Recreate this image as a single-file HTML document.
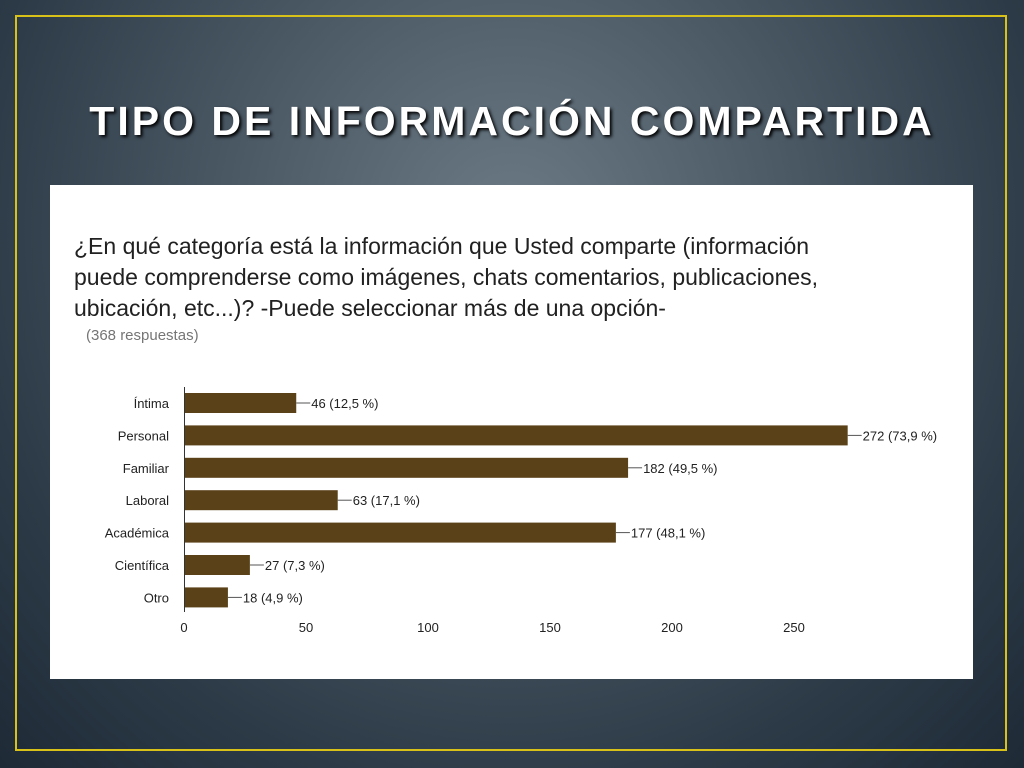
<!DOCTYPE html>
<html><head><meta charset="utf-8"><style>
body{margin:0;width:1024px;height:768px;overflow:hidden;font-family:"Liberation Sans",sans-serif;}
#bg{position:absolute;left:0;top:0;width:1024px;height:768px;background:radial-gradient(ellipse at 50% 30%,#6b7a85 0%,#4a5864 40%,#2c3a47 75%,#1e2a36 100%);}
#frame{position:absolute;left:15px;top:15px;width:992px;height:736px;border:2px solid #d8c21a;box-sizing:border-box;}
#title{position:absolute;left:0;top:98px;width:1024px;text-align:center;color:#fff;font-size:41px;font-weight:bold;letter-spacing:3px;text-shadow:2px 2px 3px #000;}
#panel{position:absolute;left:50px;top:185px;width:923px;height:494px;background:#fff;}
#q{position:absolute;left:74px;top:231px;font-size:23px;line-height:31px;color:#212121;}
#n{position:absolute;left:86px;top:327px;font-size:15px;color:#757575;}
</style></head><body>
<div id="bg"></div>
<div id="frame"></div>
<div id="title">TIPO DE INFORMACIÓN COMPARTIDA</div>
<div id="panel"></div>
<div id="q">¿En qué categoría está la información que Usted comparte (información<br>puede comprenderse como imágenes, chats comentarios, publicaciones,<br>ubicación, etc...)? -Puede seleccionar más de una opción-</div>
<div id="n">(368 respuestas)</div>
<svg id="chart" width="1024" height="768" style="position:absolute;left:0;top:0"></svg>
<script>
const categories=["Íntima","Personal","Familiar","Laboral","Académica","Científica","Otro"];
const values=[46,272,182,63,177,27,18];
const percents=["12,5","73,9","49,5","17,1","48,1","7,3","4,9"];
const ticks=[0,50,100,150,200,250];
const svg=document.getElementById('chart');
const NS="http://www.w3.org/2000/svg";
const x=v=>184+v*2.44;
const y=i=>393+i*32.4;
function mk(t,a){const e=document.createElementNS(NS,t);for(const k in a)e.setAttribute(k,a[k]);svg.appendChild(e);return e;}
const ax=mk('line',{x1:184.5,y1:387,x2:184.5,y2:612,stroke:'#333','stroke-width':1});


categories.forEach((c,i)=>{
 const l=mk('text',{x:169,y:y(i)+15,'text-anchor':'end','font-size':13,fill:'#222'});l.textContent=c;
 
 
 const b=mk('rect',{x:185,y:y(i),width:x(values[i])-185,height:20,fill:'#5a4118'});
 
 
 const ld=mk('line',{x1:x(values[i]),y1:y(i)+10,x2:x(values[i])+14,y2:y(i)+10,stroke:'#555'});
 
 
 const v=mk('text',{x:x(values[i])+15,y:y(i)+15,'font-size':13,fill:'#222'});v.textContent=values[i]+' ('+percents[i]+' %)';
 
 
});
ticks.forEach(t=>{
 const e=mk('text',{x:x(t),y:632,'text-anchor':'middle','font-size':13,fill:'#222'});e.textContent=t;
 
 
});
</script>
</body></html>
